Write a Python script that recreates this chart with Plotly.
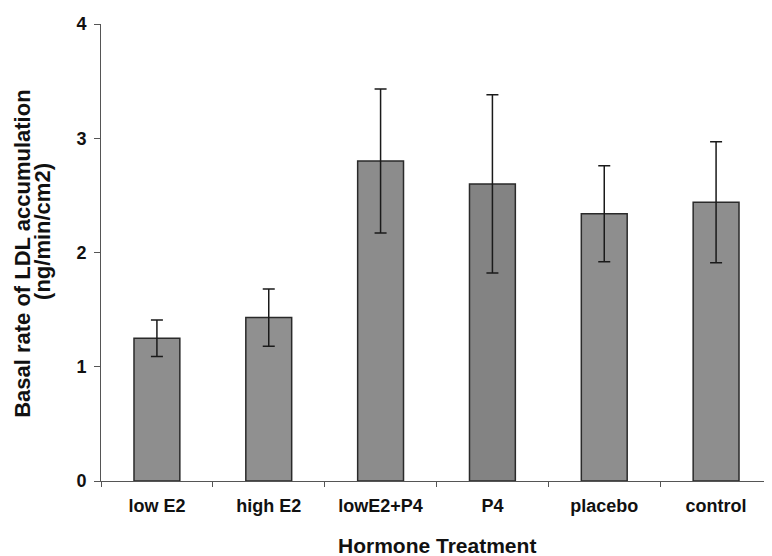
import plotly.graph_objects as go

categories = ["low E2", "high E2", "lowE2+P4", "P4", "placebo", "control"]
values = [1.25, 1.43, 2.80, 2.60, 2.34, 2.44]
errors = [0.16, 0.25, 0.63, 0.78, 0.42, 0.53]
bar_colors = ["#8e8e8e", "#909090", "#8c8c8c", "#838383", "#8e8e8e", "#8e8e8e"]
y_ticks = [0, 1, 2, 3, 4]

FONT = "Liberation Sans, Arial, sans-serif"

fig = go.Figure(
    go.Bar(
        x=categories,
        y=values,
        width=0.41,
        marker=dict(color=bar_colors, line=dict(color="#2a2a2a", width=1.5)),
        error_y=dict(type="data", array=errors, visible=True,
                     color="#1a1a1a", thickness=1.5, width=6),
    )
)

fig.update_layout(
    width=764, height=548,
    margin=dict(l=93, r=0, t=16, b=75),
    paper_bgcolor="white", plot_bgcolor="white",
    showlegend=False,
    font=dict(family=FONT, color="#111111"),
)

fig.update_xaxes(
    showline=True, linecolor="#555555", linewidth=1,
    ticks="outside", tickson="boundaries", ticklen=5, tickcolor="#555555",
    tickfont=dict(family=FONT, size=18, color="#111111", weight="bold"),
    ticklabelstandoff=8,
    showgrid=False, zeroline=False,
)
fig.update_yaxes(
    range=[0, 4], tickvals=y_ticks,
    showline=True, linecolor="#555555", linewidth=1,
    ticks="outside", ticklen=6, tickcolor="#555555",
    tickfont=dict(family=FONT, size=18, color="#111111", weight="bold"),
    ticklabelstandoff=4,
    showgrid=False, zeroline=False,
)

fig.add_annotation(
    text="Hormone Treatment", xref="paper", yref="paper",
    x=0.5, y=0, xanchor="center", yanchor="middle", yshift=-64, showarrow=False,
    font=dict(family=FONT, size=21, color="#111111", weight="bold"),
)
fig.add_annotation(
    text="Basal rate of LDL accumulation", xref="paper", yref="paper",
    x=0, y=0.497, xanchor="center", yanchor="middle", xshift=-78, textangle=-90,
    showarrow=False,
    font=dict(family=FONT, size=22, color="#111111", weight="bold"),
)
fig.add_annotation(
    text="(ng/min/cm2)", xref="paper", yref="paper",
    x=0, y=0.545, xanchor="center", yanchor="middle", xshift=-58, textangle=-90,
    showarrow=False,
    font=dict(family=FONT, size=22, color="#111111", weight="bold"),
)

fig.write_html("out.html")
